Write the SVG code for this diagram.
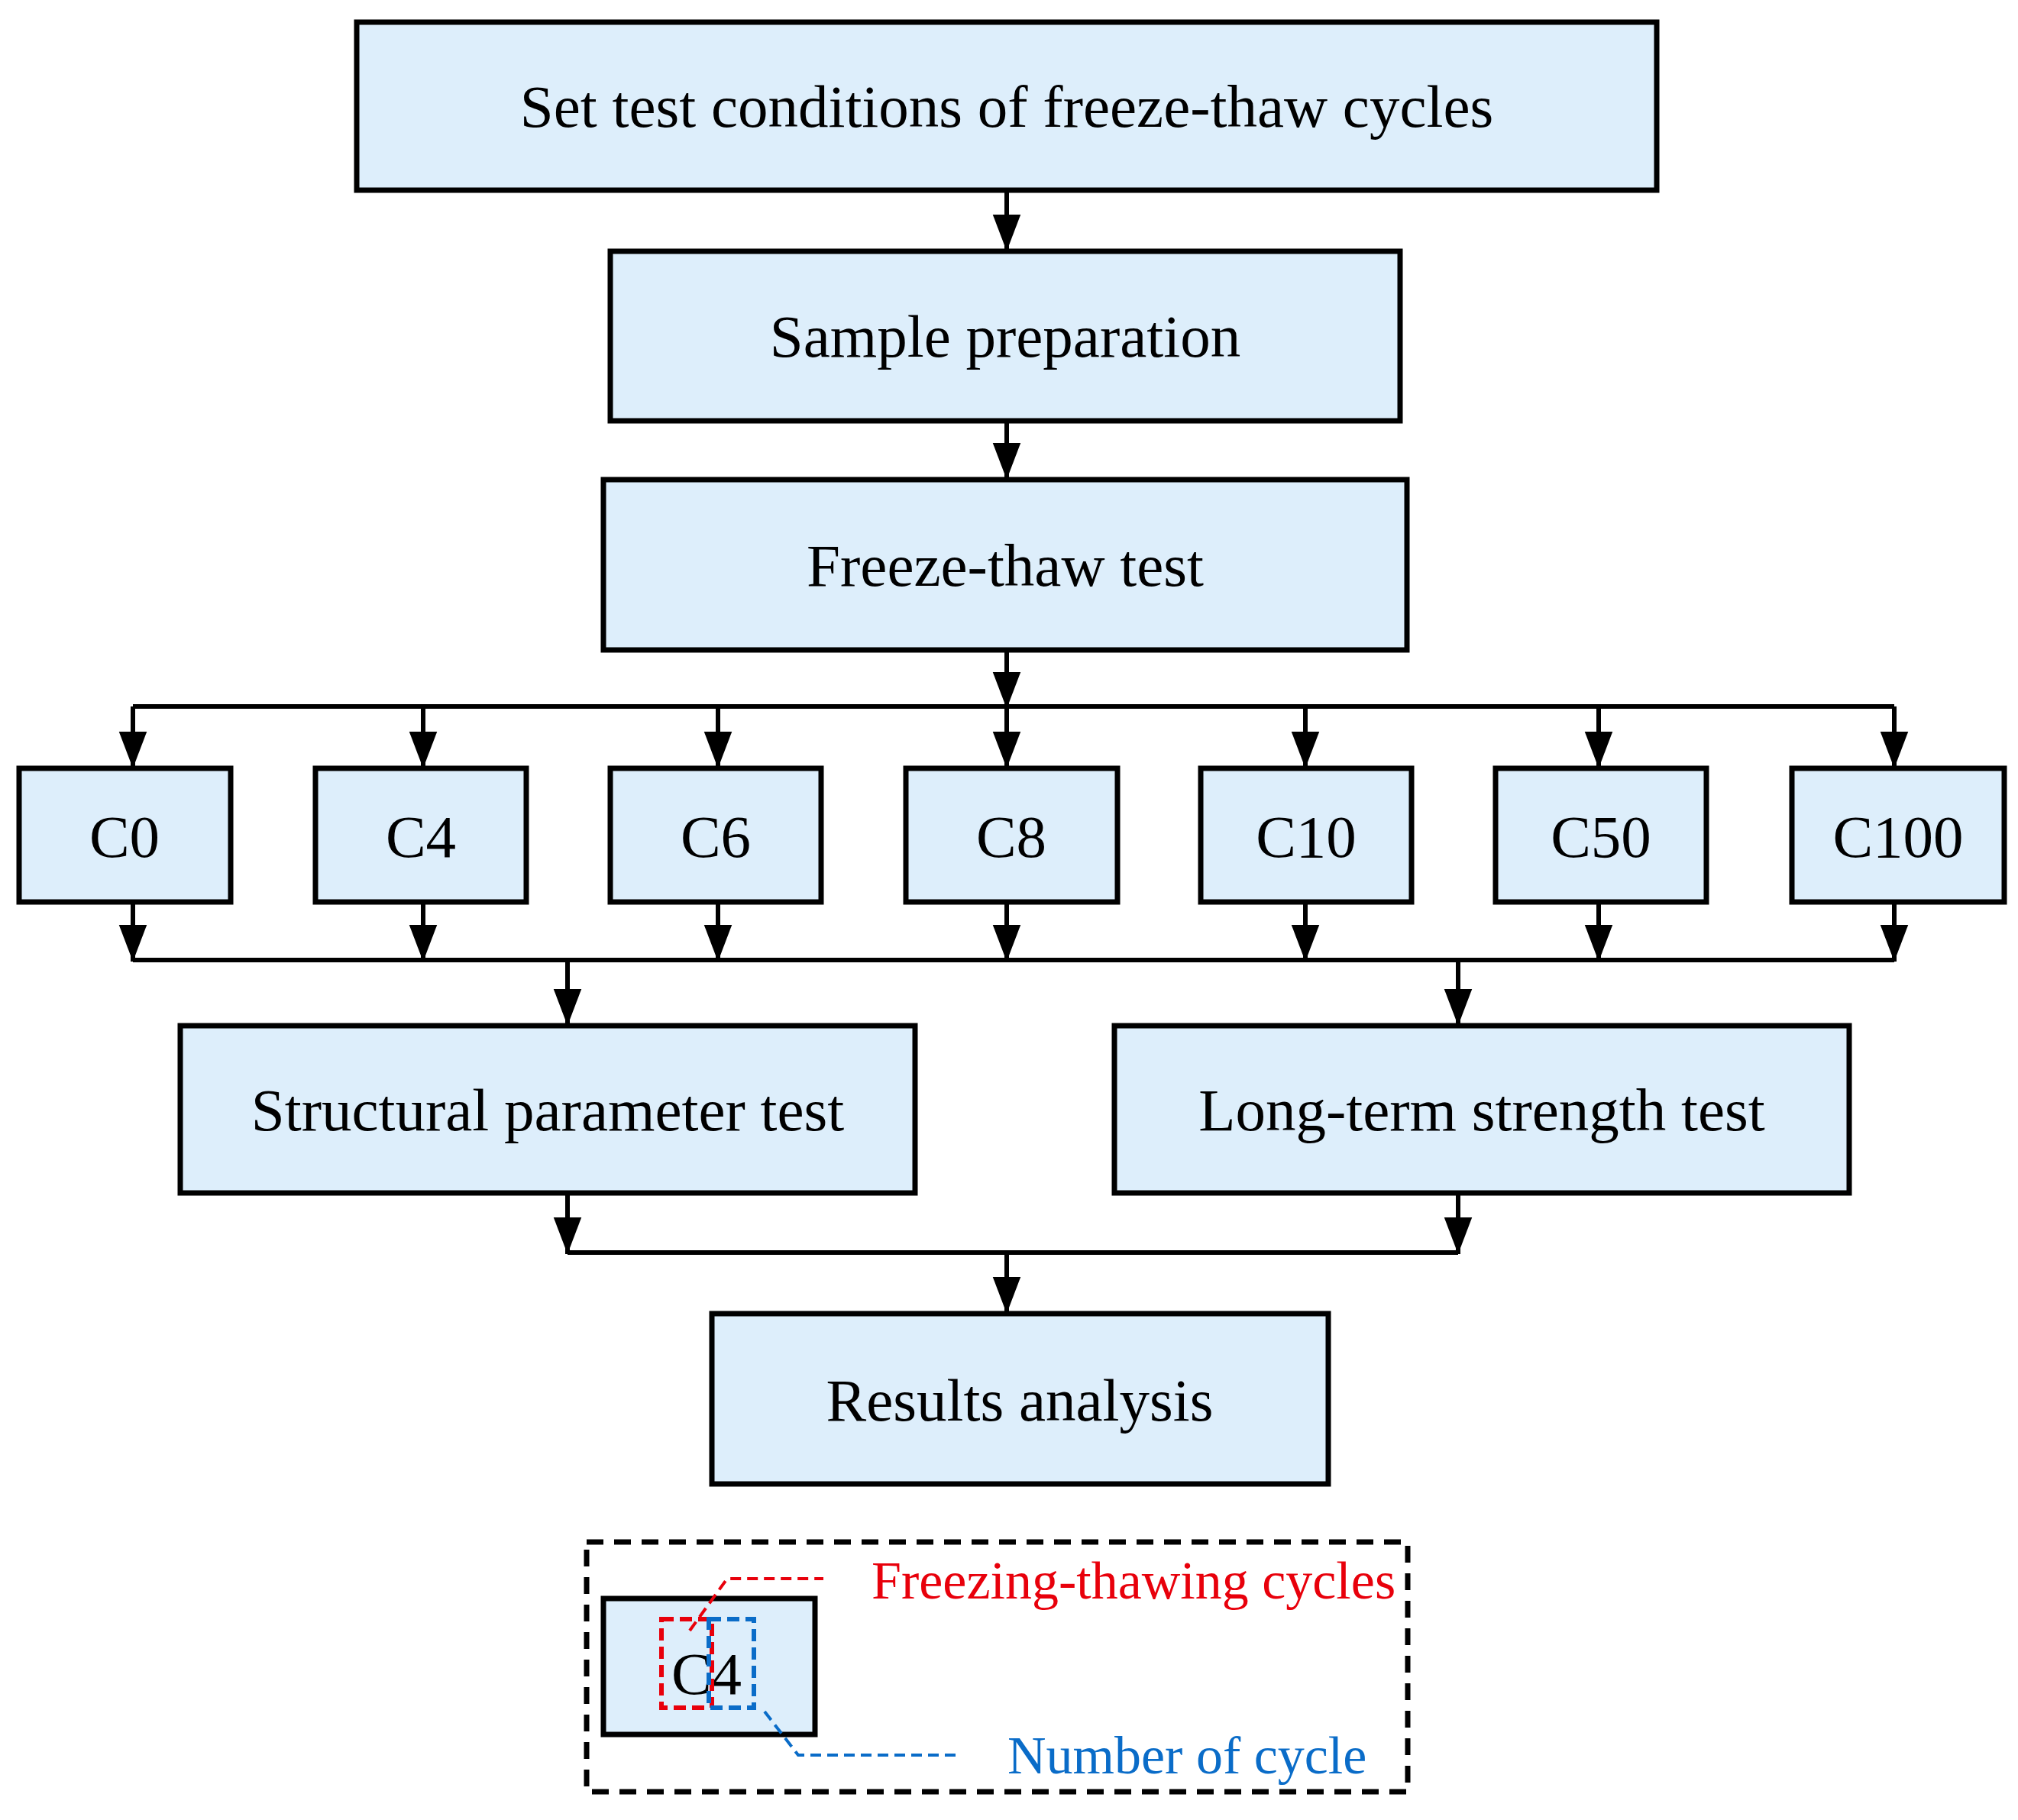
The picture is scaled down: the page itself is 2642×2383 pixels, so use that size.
<svg xmlns="http://www.w3.org/2000/svg" width="2642" height="2383" viewBox="0 0 2642 2383">
<style>
.b{fill:#DDEEFB;stroke:#000;stroke-width:7}
.t{font-family:"Liberation Serif",serif;font-size:79px;text-anchor:middle;fill:#000}
.c{fill:none;stroke:#000;stroke-width:6}
.a{fill:none;stroke:#000;stroke-width:6;marker-end:url(#m)}
</style>
<defs>
<marker id="m" viewBox="0 0 10 10" refX="10" refY="5" markerWidth="48" markerHeight="48" orient="auto" markerUnits="userSpaceOnUse"><path d="M0,1.2L10,5L0,8.8z" fill="#000"/></marker></defs>
<rect width="2642" height="2383" fill="#fff"/>
<g id="n1"><rect class="b" x="467" y="29" width="1702" height="220"/><text class="t" x="1318" y="166">Set test conditions of freeze-thaw cycles</text></g>
<g id="n2"><rect class="b" x="799" y="329" width="1034" height="222"/><text class="t" x="1316" y="467">Sample preparation</text></g>
<g id="n3"><rect class="b" x="790" y="628" width="1052" height="223"/><text class="t" x="1316" y="767">Freeze-thaw test</text></g>
<g id="c0"><rect class="b" x="25" y="1006" width="277" height="175"/><text class="t" x="163" y="1122">C0</text></g>
<g id="c4"><rect class="b" x="413" y="1006" width="276" height="175"/><text class="t" x="551" y="1122">C4</text></g>
<g id="c6"><rect class="b" x="799" y="1006" width="276" height="175"/><text class="t" x="937" y="1122">C6</text></g>
<g id="c8"><rect class="b" x="1186" y="1006" width="277" height="175"/><text class="t" x="1324" y="1122">C8</text></g>
<g id="c10"><rect class="b" x="1572" y="1006" width="276" height="175"/><text class="t" x="1710" y="1122">C10</text></g>
<g id="c50"><rect class="b" x="1958" y="1006" width="276" height="175"/><text class="t" x="2096" y="1122">C50</text></g>
<g id="c100"><rect class="b" x="2346" y="1006" width="278" height="175"/><text class="t" x="2485" y="1122">C100</text></g>
<g id="s"><rect class="b" x="236" y="1343" width="962" height="219"/><text class="t" x="717" y="1480">Structural parameter test</text></g>
<g id="l"><rect class="b" x="1459" y="1343" width="962" height="219"/><text class="t" x="1940" y="1480">Long-term strength test</text></g>
<g id="r"><rect class="b" x="932" y="1720" width="807" height="223"/><text class="t" x="1335" y="1860">Results analysis</text></g>
<g id="connectors">
<path class="a" d="M1318,249V329"/><path class="a" d="M1318,551V628"/><path class="a" d="M1318,851V928"/>
<path class="c" d="M174,925H2480"/>
<path class="a" d="M174,925V1006"/><path class="a" d="M554,925V1006"/><path class="a" d="M940,925V1006"/><path class="a" d="M1318,925V1006"/><path class="a" d="M1709,925V1006"/><path class="a" d="M2093,925V1006"/><path class="a" d="M2480,925V1006"/>
<path class="a" d="M174,1181V1259"/><path class="a" d="M554,1181V1259"/><path class="a" d="M940,1181V1259"/><path class="a" d="M1318,1181V1259"/><path class="a" d="M1709,1181V1259"/><path class="a" d="M2093,1181V1259"/><path class="a" d="M2480,1181V1259"/>
<path class="c" d="M174,1257H2480"/>
<path class="a" d="M743,1257V1343"/><path class="a" d="M1909,1257V1343"/>
<path class="a" d="M743,1562V1642"/><path class="a" d="M1909,1562V1642"/>
<path class="c" d="M743,1640H1909"/>
<path class="a" d="M1318,1640V1720"/>
</g>
<g id="legend">
<rect x="768" y="2019" width="1075" height="327" fill="none" stroke="#000" stroke-width="7" stroke-dasharray="22,14"/>
<rect class="b" x="790" y="2093" width="277" height="178"/>
<text x="925" y="2218" font-family="Liberation Serif,serif" font-size="79" text-anchor="middle">C4</text>
<rect x="866" y="2120" width="66" height="116" fill="none" stroke="#E8000B" stroke-width="6" stroke-dasharray="16,8"/>
<rect x="928" y="2120" width="59" height="116" fill="none" stroke="#0A6CC8" stroke-width="6" stroke-dasharray="16,8"/>
<path d="M903,2135L952,2067H1078" fill="none" stroke="#E8000B" stroke-width="4" stroke-dasharray="14,8"/>
<path d="M1001,2241L1045,2298H1255" fill="none" stroke="#0A6CC8" stroke-width="4" stroke-dasharray="14,8"/>
<text x="1141" y="2093" font-family="Liberation Serif,serif" font-size="70" fill="#E8000B">Freezing-thawing cycles</text>
<text x="1319" y="2322" font-family="Liberation Serif,serif" font-size="70" fill="#0A6CC8">Number of cycle</text>
</g>
</svg>
